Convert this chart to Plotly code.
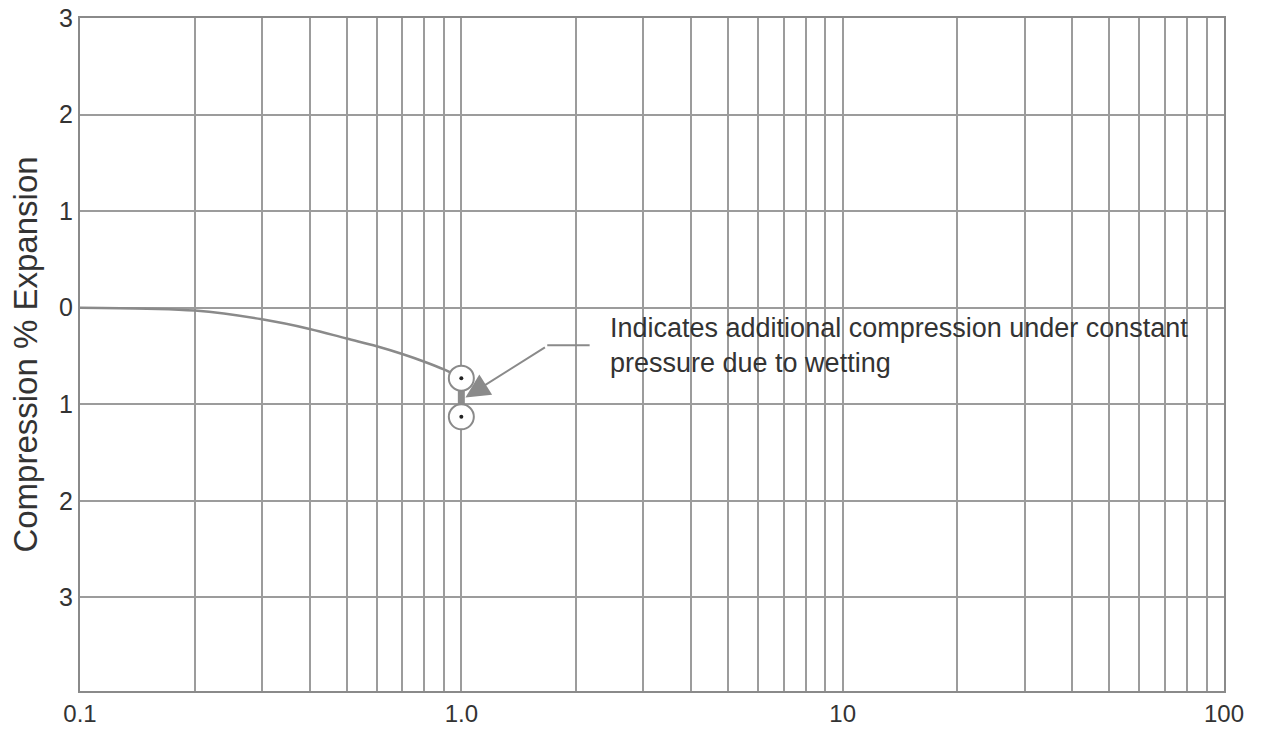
import math
import plotly.graph_objects as go

# ---- data ----
pressure_curve = [0.1, 0.15, 0.2, 0.3, 0.4, 0.5, 0.6, 0.7, 0.8, 0.9, 1.0]
strain_curve = [0.0, -0.01, -0.03, -0.12, -0.22, -0.32, -0.40, -0.48, -0.56, -0.64, -0.73]

pressure_points = [1.0, 1.0]
strain_points = [-0.73, -1.13]

x_tickvals = [0.1, 0.2, 0.3, 0.4, 0.5, 0.6, 0.7, 0.8, 0.9,
              1, 2, 3, 4, 5, 6, 7, 8, 9,
              10, 20, 30, 40, 50, 60, 70, 80, 90, 100]
x_ticktext = ["0.1", "", "", "", "", "", "", "", "",
              "1.0", "", "", "", "", "", "", "", "",
              "10", "", "", "", "", "", "", "", "", "100"]
y_tickvals = [3, 2, 1, 0, -1, -2, -3]
y_ticktext = ["3", "2", "1", "0", "1", "2", "3"]

note_text = "Indicates additional compression under constant<br>pressure due to wetting"
note_x = 2.42          # pressure where the note starts
note_y = -0.39
leader_x = [1.68, 2.17]  # horizontal leader of the arrow
leader_y = [-0.39, -0.39]
arrow_tip_x = 1.025
arrow_tip_y = -0.93

GRID = "#9c9c9c"
LINE = "#8a8a8a"
TXT = "#333333"
FONT = "Liberation Sans, Arial, sans-serif"

fig = go.Figure()

fig.add_trace(go.Scatter(x=pressure_curve, y=strain_curve, mode="lines",
                         line=dict(color=LINE, width=2.5, shape="spline", smoothing=1.0),
                         hoverinfo="skip"))
# thick bar between the two readings
fig.add_trace(go.Scatter(x=pressure_points, y=strain_points, mode="lines",
                         line=dict(color="#8c8c8c", width=7), hoverinfo="skip"))
# open circles with centre dots
fig.add_trace(go.Scatter(x=pressure_points, y=strain_points, mode="markers",
                         marker=dict(symbol="circle", size=25, color="white",
                                     line=dict(color=LINE, width=2)),
                         hoverinfo="skip"))
fig.add_trace(go.Scatter(x=pressure_points, y=strain_points, mode="markers",
                         marker=dict(symbol="circle", size=4, color="#222222"),
                         hoverinfo="skip"))
# leader line of the arrow
fig.add_trace(go.Scatter(x=leader_x, y=leader_y, mode="lines",
                         line=dict(color=LINE, width=2), hoverinfo="skip"))

fig.add_annotation(x=math.log10(arrow_tip_x), y=arrow_tip_y, xref="x", yref="y",
                   text="", showarrow=True, ax=81, ay=-51,
                   arrowhead=2, arrowsize=2.4, arrowwidth=2, arrowcolor="#8a8a8a",
                   standoff=0, startstandoff=0)
fig.add_annotation(x=math.log10(note_x), y=note_y, xref="x", yref="y",
                   text=note_text, showarrow=False, xanchor="left", yanchor="middle",
                   align="left", font=dict(family=FONT, size=27, color=TXT))

fig.update_layout(
    width=1269, height=732,
    margin=dict(l=80, r=45, t=18, b=41),
    paper_bgcolor="white", plot_bgcolor="white",
    showlegend=False,
    font=dict(family=FONT, color=TXT, size=24),
)
fig.update_xaxes(type="log", range=[-1, 2], tickvals=x_tickvals, ticktext=x_ticktext,
                 showgrid=True, gridcolor=GRID, gridwidth=2,
                 showline=True, linecolor=LINE, linewidth=2, mirror=True,
                 zeroline=False, ticks="", automargin=False,
                 tickfont=dict(size=24, color=TXT))
fig.update_yaxes(range=[-3.97, 3], tickvals=y_tickvals, ticktext=y_ticktext,
                 showgrid=True, gridcolor=GRID, gridwidth=2,
                 showline=True, linecolor=LINE, linewidth=2, mirror=True,
                 zeroline=False, ticks="", automargin=False,
                 tickfont=dict(size=25, color=TXT),
                 title=dict(text="Compression % Expansion", standoff=12,
                            font=dict(size=33, color=TXT)))

fig.write_html("out.html")
